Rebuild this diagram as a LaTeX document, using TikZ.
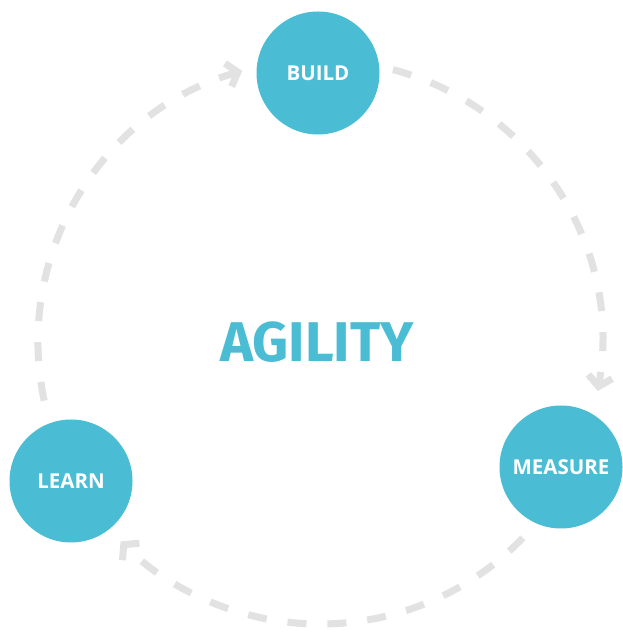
\documentclass[tikz,border=0pt]{standalone}
\usepackage{fontspec}
\setmainfont{Open Sans}
\newfontfamily\titlefont{Fira Sans}
\usetikzlibrary{arrows.meta}
\definecolor{agileblue}{RGB}{74,189,212}
\definecolor{loopgray}{RGB}{226,226,226}
\begin{document}
\begin{tikzpicture}[x=1pt,y=1pt,
  stage/.style={circle,fill=agileblue,minimum size=123pt,inner sep=0pt,
    text=white,font=\fontsize{20.5}{20.5}\selectfont\bfseries},
  loop/.style={draw=loopgray,line width=7pt,dash pattern=on 19pt off 21pt,
    -{Straight Barb[length=10pt,width=24pt,line width=7pt]}}]
\useasboundingbox (0,0) rectangle (623,632);
\fill[white] (0,0) rectangle (623,632);

% centre of the dashed cycle
\coordinate (c) at (320,290);

% stages
\node[stage] (build) at (318,559) {BUILD};
\node[stage] (measure) at (561,165) {MEASURE};
\node[stage] (learn) at (71,151) {LEARN};

\node[text=agileblue,font=\titlefont\fontsize{56}{56}\selectfont\bfseries] (agility) at (317,290) {AGILITY};

% dashed arcs joining the stages
\draw[loop] (c) ++(192:282) arc[start angle=192,end angle=106,radius=282];
\draw[loop] (c) ++(75:282) arc[start angle=75,end angle=-10,radius=282];
\draw[loop] (c) ++(-44:282) arc[start angle=-44,end angle=-135,radius=282];
\end{tikzpicture}
\end{document}
